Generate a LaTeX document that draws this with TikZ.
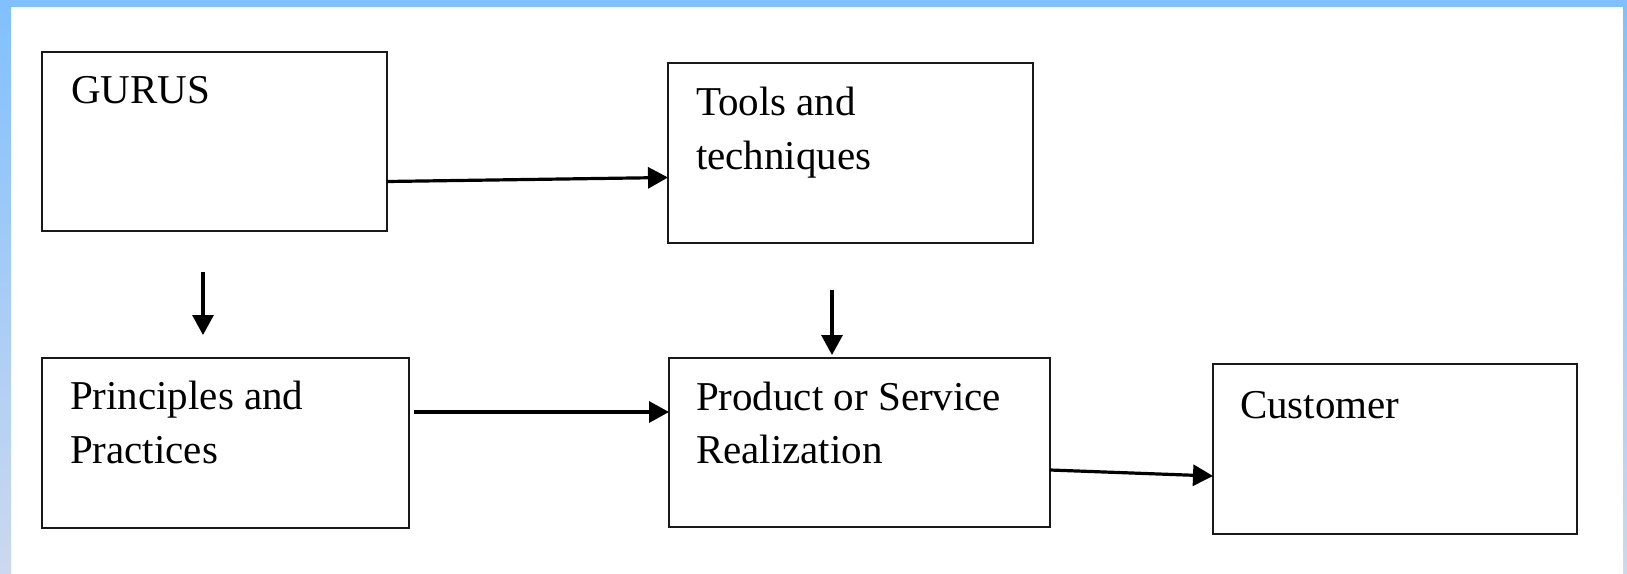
\documentclass[tikz,border=0pt]{standalone}
\usepackage{fontspec}
\setmainfont{Liberation Serif}
\usetikzlibrary{arrows.meta,calc}
\definecolor{bandtop}{HTML}{80C0FF}
\definecolor{bandbot}{HTML}{CCD8EE}
\tikzset{
  box/.style={draw=black!90, line width=2.4pt, fill=white, rectangle,
    inner sep=0pt, outer sep=0pt, anchor=north west},
  txt/.style={anchor=base west, inner sep=0pt, outer sep=0pt,
    font=\fontsize{41}{54}\selectfont, text=black},
  flow/.style={line width=3.2pt, draw=black,
    -{Triangle[length=20pt,width=21pt]}},
}
\begin{document}
\begin{tikzpicture}[x=1pt,y=-1pt]
  % page frame
  \useasboundingbox (0,0) rectangle (1627,573);
  \fill[white] (0,0) rectangle (1627,573);
  \shade[top color=bandtop, bottom color=bandbot] (0,0) rectangle (11,573);
  \shade[top color=bandtop, bottom color=bandbot] (1623,0) rectangle (1627,573);
  \fill[bandtop] (0,0) rectangle (1627,7);

  % boxes
  \node[box, minimum width=345pt, minimum height=179pt] (gurus) at (42,52) {};
  \node[box, minimum width=365pt, minimum height=180pt] (tools) at (668,63) {};
  \node[box, minimum width=367pt, minimum height=170pt] (princ) at (42,358) {};
  \node[box, minimum width=381pt, minimum height=169pt] (prod) at (669,358) {};
  \node[box, minimum width=364pt, minimum height=170pt] (cust) at (1213,364) {};

  % box texts
  \node[txt] (gurus-l1) at ($(gurus.north west)+(29,51)$) {GURUS};
  \node[txt] (tools-l1) at ($(tools.north west)+(28,52)$) {Tools and};
  \node[txt] (tools-l2) at ($(tools-l1.base west)+(0,54)$) {techniques};
  \node[txt] (princ-l1) at ($(princ.north west)+(28,51)$) {Principles and};
  \node[txt] (princ-l2) at ($(princ-l1.base west)+(0,54)$) {Practices};
  \node[txt] (prod-l1) at ($(prod.north west)+(27,52)$) {Product or Service};
  \node[txt] (prod-l2) at ($(prod-l1.base west)+(0,53)$) {Realization};
  \node[txt] (cust-l1) at ($(cust.north west)+(27,54)$) {Customer};

  % connectors
  \draw[flow] ($(gurus.north east)+(0,129.5)$) -- ($(tools.north west)+(0,114.5)$);
  \draw[flow] ($(gurus.south west)+(161,41)$) -- ($(princ.north west)+(161,-23)$);
  \draw[flow] ($(tools.south west)+(164,47)$) -- ($(prod.north west)+(163,-3)$);
  \draw[flow] ($(princ.north east)+(5,54)$) -- ($(prod.north west)+(0,54)$);
  \draw[flow] ($(prod.north east)+(0,112)$) -- ($(cust.north west)+(0,112)$);
\end{tikzpicture}
\end{document}
